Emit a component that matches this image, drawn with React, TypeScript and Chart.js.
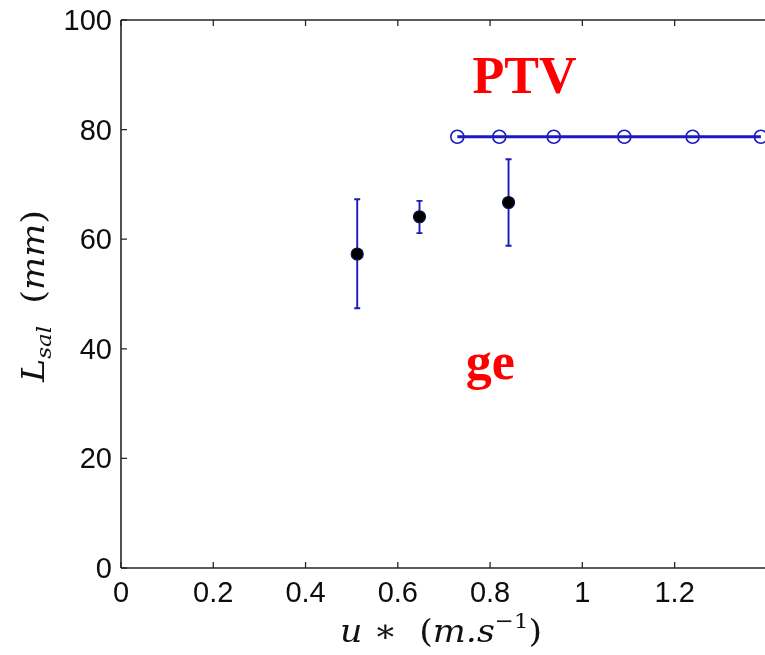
import React, { useEffect, useRef } from "react";
import { Chart, registerables } from "chart.js";
Chart.register(...registerables);

// Filled markers (with error bars)
const solidX = [0.512, 0.647, 0.84];
const solidY = [57.3, 64.1, 66.7];
const solidLow = [47.4, 61.1, 58.8];
const solidHigh = [67.3, 67.0, 74.6];
// Open-circle series (PTV)
const ptvX = [0.729, 0.82, 0.938, 1.091, 1.239, 1.387];
const ptvY = [78.7, 78.7, 78.7, 78.7, 78.7, 78.7];
// Axes
const xTicks = [0, 0.2, 0.4, 0.6, 0.8, 1, 1.2];
const xTickLabels = ["0", "0.2", "0.4", "0.6", "0.8", "1", "1.2"];
const yTicks = [0, 20, 40, 60, 80, 100];
const yTickLabels = ["0", "20", "40", "60", "80", "100"];
const X_RANGE = [0, 1.4];
const Y_RANGE = [0, 100];
// Annotations (text, x, y in data units)
const annotations = [
  { text: "PTV", x: 0.762, y: 86.7 },
  { text: "ge", x: 0.747, y: 34.5 },
];

const BLUE = "#1a1abf";
const AXIS = "#262626";

type Seg = { t: string; font: string; dy?: number };

function drawSegs(ctx: CanvasRenderingContext2D, segs: Seg[], x: number, y: number, target: number) {
  let total = 0;
  for (const s of segs) {
    ctx.font = s.font;
    total += ctx.measureText(s.t).width;
  }
  const k = target / total;
  ctx.save();
  ctx.translate(x, y);
  ctx.scale(k, 1);
  let cx = 0;
  for (const s of segs) {
    ctx.font = s.font;
    ctx.fillText(s.t, cx, s.dy || 0);
    cx += ctx.measureText(s.t).width;
  }
  ctx.restore();
}

const customPlugin = {
  id: "matlabStyle",
  beforeDatasetsDraw(chart: any) {
    const ctx = chart.ctx as CanvasRenderingContext2D;
    const xs = chart.scales.x;
    const ys = chart.scales.y;
    ctx.save();
    ctx.strokeStyle = BLUE;
    ctx.lineWidth = 1.9;
    for (let i = 0; i < solidX.length; i++) {
      const px = xs.getPixelForValue(solidX[i]);
      const pl = ys.getPixelForValue(solidLow[i]);
      const ph = ys.getPixelForValue(solidHigh[i]);
      ctx.beginPath();
      ctx.moveTo(px, pl);
      ctx.lineTo(px, ph);
      ctx.moveTo(px - 3, pl);
      ctx.lineTo(px + 3, pl);
      ctx.moveTo(px - 3, ph);
      ctx.lineTo(px + 3, ph);
      ctx.stroke();
    }
    ctx.restore();
  },
  afterDraw(chart: any) {
    const ctx = chart.ctx as CanvasRenderingContext2D;
    const xs = chart.scales.x;
    const ys = chart.scales.y;
    const a = chart.chartArea;
    ctx.save();
    ctx.strokeStyle = AXIS;
    ctx.lineWidth = 1.6;
    ctx.beginPath();
    ctx.moveTo(a.left, a.bottom);
    ctx.lineTo(a.right + 10, a.bottom);
    ctx.moveTo(a.left, a.top);
    ctx.lineTo(a.right + 10, a.top);
    ctx.moveTo(a.left, a.top);
    ctx.lineTo(a.left, a.bottom);
    ctx.stroke();
    ctx.lineWidth = 1.3;
    ctx.beginPath();
    for (const v of xTicks) {
      const px = xs.getPixelForValue(v);
      ctx.moveTo(px, a.bottom);
      ctx.lineTo(px, a.bottom - 6);
      ctx.moveTo(px, a.top);
      ctx.lineTo(px, a.top + 6);
    }
    for (const v of yTicks) {
      const py = ys.getPixelForValue(v);
      ctx.moveTo(a.left, py);
      ctx.lineTo(a.left + 6, py);
    }
    ctx.stroke();

    ctx.fillStyle = "#0d0d0d";
    ctx.font = '29px "Liberation Sans", Arial, sans-serif';
    ctx.textAlign = "center";
    ctx.textBaseline = "alphabetic";
    xTicks.forEach((v, i) => {
      ctx.fillText(xTickLabels[i], xs.getPixelForValue(v), a.bottom + 34);
    });
    ctx.textAlign = "right";
    yTicks.forEach((v, i) => {
      ctx.fillText(yTickLabels[i], a.left - 9, ys.getPixelForValue(v) + 10);
    });

    // Axis titles
    ctx.textAlign = "left";
    ctx.fillStyle = "#111";
    const it = 'italic 32px "DejaVu Serif", "Liberation Serif", serif';
    const rm = '32px "DejaVu Serif", "Liberation Serif", serif';
    const smIt = 'italic 21px "DejaVu Serif", "Liberation Serif", serif';
    const smRm = '21px "DejaVu Serif", "Liberation Serif", serif';
    drawSegs(
      ctx,
      [
        { t: "u", font: it },
        { t: " \u2217  ", font: rm },
        { t: "(", font: rm },
        { t: "m.s", font: it },
        { t: "\u22121", font: smRm, dy: -14 },
        { t: ")", font: rm },
      ],
      340,
      642,
      202
    );
    ctx.save();
    ctx.translate(44, 382);
    ctx.rotate(-Math.PI / 2);
    drawSegs(
      ctx,
      [
        { t: "L", font: it },
        { t: "sal", font: smIt, dy: 7 },
        { t: "  (", font: rm },
        { t: "mm", font: it },
        { t: ")", font: rm },
      ],
      0,
      0,
      172
    );
    ctx.restore();

    // Annotations
    ctx.fillStyle = "#ff0000";
    ctx.font = 'bold 52px "Liberation Serif", "Times New Roman", serif';
    ctx.textAlign = "left";
    for (const an of annotations) {
      ctx.fillText(an.text, xs.getPixelForValue(an.x), ys.getPixelForValue(an.y));
    }
    ctx.restore();
  },
};

export default function App() {
  const ref = useRef<HTMLCanvasElement>(null);
  useEffect(() => {
    if (!ref.current) return;
    const chart = new Chart(ref.current, {
      type: "scatter",
      data: {
        datasets: [
          {
            label: "PTV",
            data: ptvX.map((x, i) => ({ x, y: ptvY[i] })),
            showLine: true,
            borderColor: BLUE,
            borderWidth: 3,
            pointRadius: 6.5,
            pointBorderWidth: 1.6,
            pointBorderColor: BLUE,
            pointBackgroundColor: "rgba(0,0,0,0)",
            clip: false,
          } as any,
          {
            label: "ge",
            data: solidX.map((x, i) => ({ x, y: solidY[i] })),
            pointRadius: 6,
            pointBorderWidth: 1.2,
            pointBorderColor: "#10104a",
            pointBackgroundColor: "#000000",
            clip: false,
          } as any,
        ],
      },
      options: {
        animation: false,
        responsive: false,
        maintainAspectRatio: false,
        layout: { padding: { left: 121, top: 20, right: 7, bottom: 87 } },
        plugins: { legend: { display: false }, tooltip: { enabled: false } },
        scales: {
          x: { type: "linear", min: X_RANGE[0], max: X_RANGE[1], display: false },
          y: { type: "linear", min: Y_RANGE[0], max: Y_RANGE[1], display: false },
        },
      },
      plugins: [customPlugin],
    });
    return () => chart.destroy();
  }, []);
  return (
    <div
      style={{
        position: "fixed",
        left: 0,
        top: 0,
        width: 765,
        height: 655,
        overflow: "hidden",
        background: "#fff",
      }}
    >
      <canvas ref={ref} width={775} height={655} style={{ display: "block" }} />
    </div>
  );
}
